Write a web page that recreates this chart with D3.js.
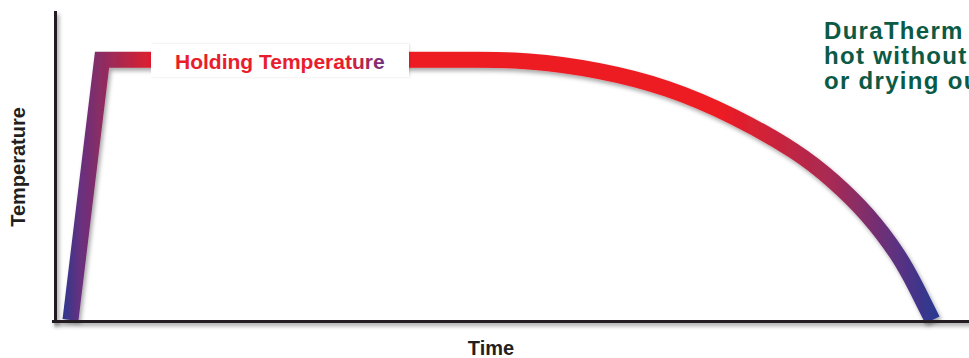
<!DOCTYPE html>
<html>
<head>
<meta charset="utf-8">
<script src="https://cdn.jsdelivr.net/npm/d3@7"></script>
<style>
  body { margin: 0; background: #fff; }
  svg { display: block; font-family: "Liberation Sans", Arial, Helvetica, sans-serif; }
</style>
</head>
<body>
<svg id="grafico" width="969" height="358"></svg>
<script>
// datos (tiempo en unidades relativas, temperatura en % de la de mantenimiento)
var rampTime = [1.8, 5.25, 45];
var rampTemp = [0, 100, 100];

var coolTime = [45, 51.7, 59.7, 67.0, 74.2, 81.5, 85.1, 88.9, 92.5, 94.2, 96.0];
var coolTemp = [100, 100, 96.1, 89.6, 78.8, 64.2, 53.8, 41.1, 24.2, 12.7, 0];

var holdLabel = "Holding Temperature";
var xTitle = "Time";
var yTitle = "Temperature";
var sideText = ["DuraTherm", "hot without", "or drying out"];

var width = 969, height = 358;
var svg = d3.select("#grafico");

// escalas
var x = d3.scaleLinear().domain([0, 100]).range([54, 969]);
var y = d3.scaleLinear().domain([0, 118]).range([320, 13]);

var defs = svg.append("defs");

// sombra suave (en coordenadas de usuario para que funcione en lineas rectas)
var sombra = defs.append("filter").attr("id", "sombra")
    .attr("filterUnits", "userSpaceOnUse")
    .attr("x", 0).attr("y", 0).attr("width", width).attr("height", height);
sombra.append("feDropShadow")
    .attr("dx", 2).attr("dy", 3).attr("stdDeviation", 2.2)
    .attr("flood-color", "#000").attr("flood-opacity", 0.35);

var sombraCaja = defs.append("filter").attr("id", "sombraCaja")
    .attr("filterUnits", "userSpaceOnUse")
    .attr("x", 0).attr("y", 0).attr("width", width).attr("height", height);
sombraCaja.append("feDropShadow")
    .attr("dx", 1).attr("dy", 0).attr("stdDeviation", 1.2)
    .attr("flood-color", "#000").attr("flood-opacity", 0.12);

// degradado horizontal azul -> rojo -> azul
var grad = defs.append("linearGradient").attr("id", "degradado")
    .attr("gradientUnits", "userSpaceOnUse")
    .attr("x1", 0).attr("y1", 0).attr("x2", width).attr("y2", 0);
[[62, "#2b3990"], [80, "#66307f"], [100, "#8a2d64"], [160, "#ed1c24"],
 [720, "#ed1c24"], [833, "#a62b55"], [900, "#583183"], [935, "#2b3990"]]
    .forEach(function (s) {
        grad.append("stop").attr("offset", s[0] / width).attr("stop-color", s[1]);
    });

// degradado del texto
var gradTxt = defs.append("linearGradient").attr("id", "degradadoTexto")
    .attr("x1", 0).attr("y1", 0).attr("x2", 1).attr("y2", 0);
gradTxt.append("stop").attr("offset", 0.82).attr("stop-color", "#e81e2c");
gradTxt.append("stop").attr("offset", 1).attr("stop-color", "#6a3183");

// lineas de temperatura: subida recta y enfriamiento suavizado
var linea = d3.line()
    .x(function (d) { return x(d[0]); })
    .y(function (d) { return y(d[1]); });

var lineaCurva = d3.line()
    .x(function (d) { return x(d[0]); })
    .y(function (d) { return y(d[1]); })
    .curve(d3.curveBasis);

var ramp = d3.zip(rampTime, rampTemp);
var cool = d3.zip(coolTime, coolTemp);

svg.append("path")
    .attr("d", linea(ramp) + lineaCurva(cool).replace(/^M/, "L"))
    .attr("fill", "none")
    .attr("stroke", "url(#degradado)")
    .attr("stroke-width", 16)
    .attr("stroke-linejoin", "miter")
    .attr("filter", "url(#sombra)");

// ejes sin marcas
svg.append("g")
    .attr("transform", "translate(" + x(0) + ",0)")
    .call(d3.axisLeft(y).ticks(0).tickSizeOuter(0));
svg.append("g")
    .attr("transform", "translate(0," + y(0) + ")")
    .call(d3.axisBottom(x).ticks(0).tickSizeOuter(0));
svg.selectAll(".domain")
    .attr("stroke", "#231f20")
    .attr("stroke-width", 5)
    .attr("stroke-linecap", "square")
    .attr("filter", "url(#sombra)");

// etiqueta de temperatura de mantenimiento
svg.append("rect")
    .attr("x", 151).attr("y", 44).attr("width", 258).attr("height", 33)
    .attr("fill", "#fff")
    .attr("filter", "url(#sombraCaja)");
svg.append("text")
    .attr("x", 175).attr("y", 69)
    .attr("font-size", 21).attr("font-weight", "bold")
    .attr("fill", "url(#degradadoTexto)")
    .text(holdLabel);

// titulos de ejes
svg.append("text")
    .attr("x", 491).attr("y", 355)
    .attr("text-anchor", "middle")
    .attr("font-size", 20).attr("font-weight", "bold")
    .attr("fill", "#231f20")
    .text(xTitle);

svg.append("text")
    .attr("transform", "translate(25,167) rotate(-90)")
    .attr("text-anchor", "middle")
    .attr("font-size", 20).attr("font-weight", "bold")
    .attr("fill", "#231f20")
    .text(yTitle);

// texto lateral verde
svg.append("text")
    .attr("x", 824).attr("y", 39)
    .attr("font-size", 24).attr("font-weight", "bold")
    .attr("letter-spacing", 1.3)
    .attr("fill", "#0b5a45")
    .selectAll("tspan")
    .data(sideText)
    .enter().append("tspan")
    .attr("x", 824)
    .attr("dy", function (d, i) { return i === 0 ? 0 : 25; })
    .text(function (d) { return d; });
</script>
</body>
</html>
